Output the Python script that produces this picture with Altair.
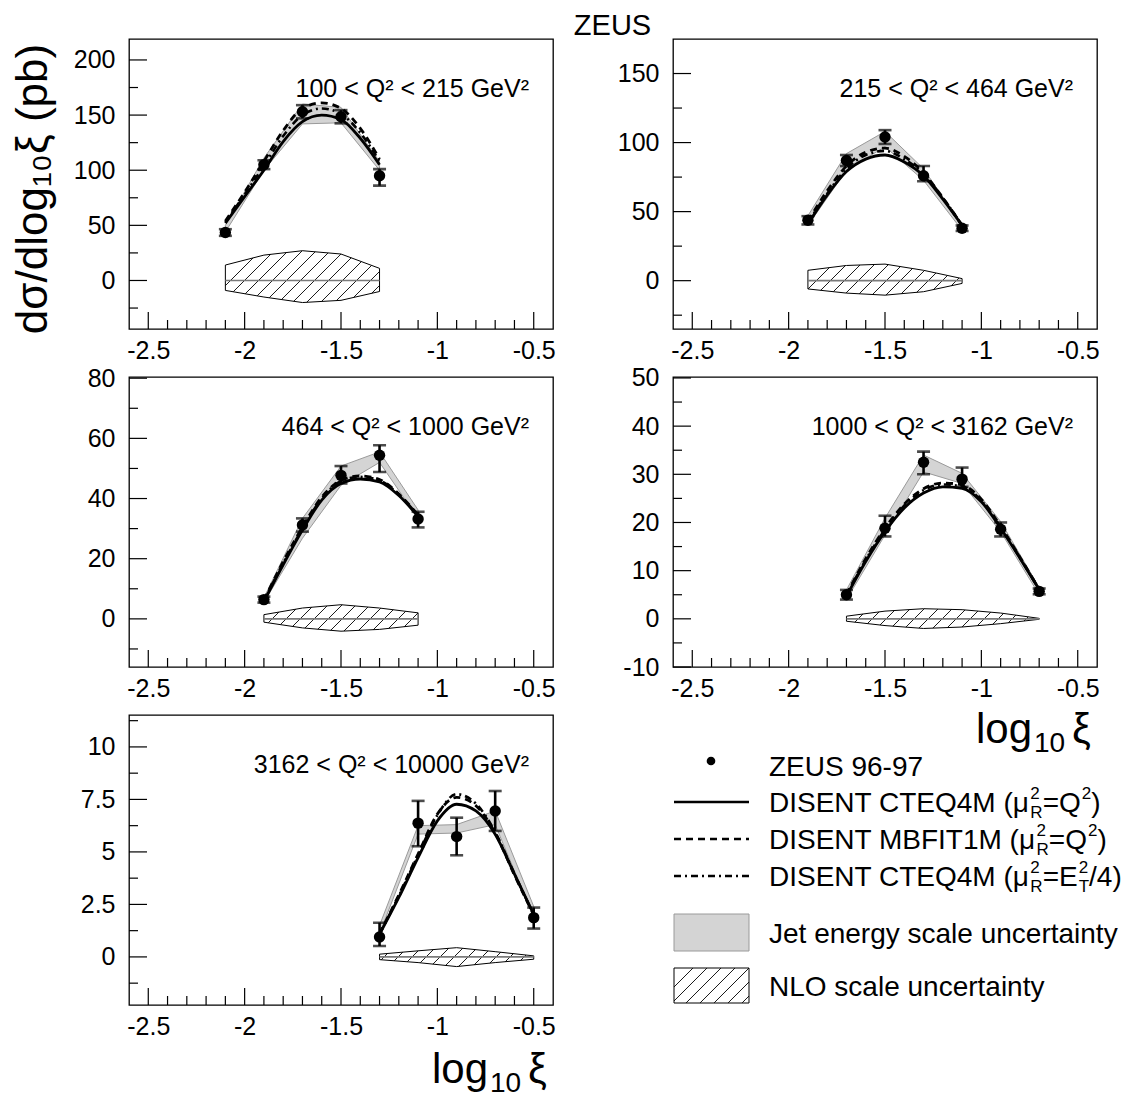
import altair as alt
import numpy as np
import pandas as pd

FONT = "Liberation Sans"
XDOM = [-2.6, -0.4]
W = 424
H = 290
X_MAJ = [-2.5, -2.0, -1.5, -1.0, -0.5]
X_ALL = [round(-2.5 + 0.1 * i, 1) for i in range(21)]
TITLE = "ZEUS"
YTITLE = "dσ/dlog₁₀ξ (pb)"

# ---------------- Panel 1 ----------------
P1_LABEL = "100 < Q² < 215 GeV²"
P1_YDOM = [-44, 219]
P1_YMAJ = [0, 50, 100, 150, 200]
P1_YMIN = [-25, 25, 75, 125, 175]
P1_X = [-2.1, -1.9, -1.7, -1.5, -1.3]
P1_Y = [43.5, 105, 153, 148.5, 95]
P1_EUP = [3, 4, 6, 6, 6]
P1_EDN = [3, 4, 6, 6, 9]
P1_JHI = [50, 111, 160, 157, 108]
P1_JLO = [44, 100, 142, 143, 100]
P1_NHI = [14, 23, 27, 24, 11]
P1_NLO = [-9, -15, -20, -18, -10]
P1_CX = [-2.1, -2.0, -1.9, -1.8, -1.7, -1.6, -1.5, -1.4, -1.3]
P1_SOLID = [52, 76, 100, 126, 144, 150, 146, 129, 105]
P1_DASH = [54, 80, 108, 136, 156, 161, 156, 138, 110]
P1_DDOT = [53, 78, 104, 131, 150, 156, 151, 134, 108]

# ---------------- Panel 2 ----------------
P2_LABEL = "215 < Q² < 464 GeV²"
P2_YDOM = [-35, 175]
P2_YMAJ = [0, 50, 100, 150]
P2_YMIN = [-25, 25, 75, 125]
P2_X = [-1.9, -1.7, -1.5, -1.3, -1.1]
P2_Y = [43.7, 87, 104, 76, 38]
P2_EUP = [3, 4, 5, 7, 2]
P2_EDN = [3, 4, 5, 4, 2]
P2_JHI = [47, 92, 108, 81, 40]
P2_JLO = [40, 80, 97, 72.7, 36.5]
P2_NHI = [7.5, 11, 12, 7.5, 1.5]
P2_NLO = [-6, -9, -10.5, -8, -2]
P2_CX = [-1.9, -1.8, -1.7, -1.6, -1.5, -1.4, -1.3, -1.2, -1.1]
P2_SOLID = [41, 62, 79, 88, 91, 86, 76, 59, 40]
P2_DASH = [43, 65, 83, 93, 96, 90, 78, 60, 40]
P2_DDOT = [42, 63, 81, 91, 94, 88, 77, 60, 40]

# ---------------- Panel 3 ----------------
P3_LABEL = "464 < Q² < 1000 GeV²"
P3_YDOM = [-16, 80.4]
P3_YMAJ = [0, 20, 40, 60, 80]
P3_YMIN = [-10, 10, 30, 50, 70]
P3_X = [-1.9, -1.7, -1.5, -1.3, -1.1]
P3_Y = [6.4, 31.2, 47.7, 54.4, 33.2]
P3_EUP = [1, 2.2, 3.1, 3.3, 2.4]
P3_EDN = [1, 2.2, 2.7, 5.6, 2.8]
P3_JHI = [7, 33.4, 50.8, 55.5, 36.2]
P3_JLO = [5.5, 26.8, 44.4, 52.0, 33.4]
P3_NHI = [1.4, 3.6, 4.7, 3.6, 2.0]
P3_NLO = [-1.1, -3.0, -4.1, -3.5, -2.1]
P3_CX = [-1.9, -1.8, -1.7, -1.6, -1.5, -1.4, -1.3, -1.2, -1.1]
P3_SOLID = [5.8, 18, 29.5, 39.5, 45, 46.5, 45.5, 41, 34]
P3_DASH = [6.2, 19, 30.5, 40.5, 46, 47.5, 46.3, 41.5, 34.5]
P3_DDOT = [6.0, 18.5, 30, 40, 45.8, 47.2, 46, 41.3, 34.3]

# ---------------- Panel 4 ----------------
P4_LABEL = "1000 < Q² < 3162 GeV²"
P4_YDOM = [-10, 50.2]
P4_YMAJ = [-10, 0, 10, 20, 30, 40, 50]
P4_YMIN = [-5, 5, 15, 25, 35, 45]
P4_X = [-1.7, -1.5, -1.3, -1.1, -0.9, -0.7]
P4_Y = [5.0, 18.8, 32.5, 29.0, 18.6, 5.7]
P4_EUP = [1, 2.6, 2.2, 2.4, 1.4, 0.6]
P4_EDN = [1, 1.7, 2.5, 1.6, 1.5, 0.6]
P4_JHI = [6, 20.9, 34, 30.2, 20.2, 6.5]
P4_JLO = [4, 17.4, 30.5, 28.1, 18.1, 5.0]
P4_NHI = [0.55, 1.6, 2.1, 1.9, 1.2, 0.1]
P4_NLO = [-0.5, -1.4, -2.0, -1.7, -1.0, -0.1]
P4_CX = [-1.7, -1.6, -1.5, -1.4, -1.3, -1.2, -1.1, -1.0, -0.9, -0.8, -0.7]
P4_SOLID = [4.7, 11.9, 18.1, 23, 26.1, 27.4, 27.1, 24.3, 18.8, 12.6, 6.1]
P4_DASH = [5.0, 12.5, 18.8, 23.8, 27, 28.2, 27.8, 24.8, 19.2, 12.8, 6.1]
P4_DDOT = [4.9, 12.2, 18.5, 23.5, 26.7, 27.9, 27.5, 24.5, 19.0, 12.7, 6.1]

# ---------------- Panel 5 ----------------
P5_LABEL = "3162 < Q² < 10000 GeV²"
P5_YDOM = [-2.29, 11.52]
P5_YMAJ = [0, 2.5, 5, 7.5, 10]
P5_YMIN = [-1.25, 1.25, 3.75, 6.25, 8.75, 11.25]
P5_X = [-1.3, -1.1, -0.9, -0.7, -0.5]
P5_Y = [0.95, 6.37, 5.73, 6.95, 1.87]
P5_EUP = [0.68, 1.06, 0.9, 0.95, 0.48]
P5_EDN = [0.43, 1.1, 0.89, 0.95, 0.52]
P5_JHI = [1.5, 6.25, 6.3, 6.95, 2.4]
P5_JLO = [1.1, 5.85, 5.9, 6.3, 1.9]
P5_NHI = [0.13, 0.29, 0.44, 0.25, 0.05]
P5_NLO = [-0.13, -0.27, -0.46, -0.27, -0.11]
P5_CX = [-1.3, -1.2, -1.1, -1.0, -0.9, -0.8, -0.7, -0.6, -0.5]
P5_SOLID = [1.08, 2.83, 4.73, 6.48, 7.27, 6.95, 5.84, 3.94, 2.03]
P5_DASH = [1.1, 2.95, 4.9, 6.8, 7.6, 7.2, 5.9, 3.9, 2.0]
P5_DDOT = [1.1, 2.9, 4.85, 6.75, 7.75, 7.3, 5.95, 3.95, 2.0]

# ---------------- Legend ----------------
LEG_DATA = "ZEUS 96-97"
LEG_CURVES = ["DISENT CTEQ4M (μ", "DISENT MBFIT1M (μ", "DISENT CTEQ4M (μ"]
LEG_SCALE = ["Q", "Q", "E"]
LEG_JES = "Jet energy scale uncertainty"
LEG_NLO = "NLO scale uncertainty"

DASH_SOLID = [1, 0]
DASH_DASHED = [7, 5]
DASH_DDOT = [7, 4, 2, 4]

ARIAL = {" ": 278, "(": 333, ")": 333, "/": 278, "=": 584, "1": 556, "2": 556,
         "4": 556, "B": 667, "C": 722, "D": 722, "E": 667, "F": 611, "I": 278,
         "M": 833, "N": 722, "Q": 778, "S": 667, "T": 611, "R": 722, "μ": 576}


def tw(s, size):
    return sum(ARIAL.get(ch, 556) for ch in s) / 1000.0 * size


ONE = pd.DataFrame({"k": [0]})
FRAME = alt.ViewBackground(stroke="black", strokeWidth=1.3)


def hatch_segments(sx, up, dn, spacing):
    out = []
    s = sx + up
    e = sx + dn
    c = np.ceil(s.min() / spacing) * spacing + 0.5 * spacing
    while c < e.max():
        ly = c - sx
        inside = (ly >= up) & (ly <= dn)
        idx = np.flatnonzero(inside)
        if idx.size:
            br = np.flatnonzero(np.diff(idx) > 1)
            starts = np.r_[idx[0], idx[br + 1]]
            ends = np.r_[idx[br], idx[-1]]
            for a, b in zip(starts, ends):
                if b > a:
                    out.append((sx[a], ly[a], sx[b], ly[b]))
        c += spacing
    return out


def hatch_df(xs, lo, hi, ydom, spacing=14.0):
    xs = np.asarray(xs, float)
    lo = np.asarray(lo, float)
    hi = np.asarray(hi, float)
    to_px = lambda x: (x - XDOM[0]) / (XDOM[1] - XDOM[0]) * W
    to_py = lambda y: H - (y - ydom[0]) / (ydom[1] - ydom[0]) * H
    sx = np.linspace(to_px(xs[0]), to_px(xs[-1]), 3000)
    xd = XDOM[0] + sx / W * (XDOM[1] - XDOM[0])
    up = to_py(np.interp(xd, xs, hi))
    dn = to_py(np.interp(xd, xs, lo))
    rows = []
    for (a, b, c, d) in hatch_segments(sx, up, dn, spacing):
        rows.append({
            "x1": XDOM[0] + a / W * (XDOM[1] - XDOM[0]),
            "y1": ydom[0] + (H - b) / H * (ydom[1] - ydom[0]),
            "x2": XDOM[0] + c / W * (XDOM[1] - XDOM[0]),
            "y2": ydom[0] + (H - d) / H * (ydom[1] - ydom[0]),
        })
    return pd.DataFrame(rows)


def xenc(field):
    return alt.X(f"{field}:Q",
                 scale=alt.Scale(domain=XDOM, nice=False, zero=False),
                 axis=alt.Axis(values=X_MAJ, labelExpr="'' + datum.value", ticks=False,
                               domain=False, grid=False, labelFont=FONT, labelFontSize=25,
                               labelPadding=9, labelColor="black", labelFlush=False,
                               title=None))


def yenc(field, ydom, ymaj):
    return alt.Y(f"{field}:Q",
                 scale=alt.Scale(domain=ydom, nice=False, zero=False),
                 axis=alt.Axis(values=ymaj, labelExpr="'' + datum.value", ticks=False,
                               domain=False, grid=False, labelFont=FONT, labelFontSize=25,
                               labelPadding=14, labelColor="black", labelFlush=False,
                               title=None))


def txt(text, x, y, size, align="left", angle=0, baseline="alphabetic"):
    mk = dict(align=align, baseline=baseline, font=FONT, fontSize=size, color="black")
    if angle:
        mk["angle"] = angle
    return alt.Chart(ONE).mark_text(**mk).encode(
        x=alt.value(x), y=alt.value(y), text=alt.value(text))


def xtitle_layers(base_y):
    return [
        txt("log", W - 121, base_y, 42),
        txt("10", W - 63, base_y + 9, 28),
        txt("ξ", W - 25, base_y, 42),
    ]


def make_panel(label, ydom, ymaj, ymin, xs, ys, eup, edn, jhi, jlo, nhi, nlo,
               cx, solid, dash, ddot, extra=None):
    pts = pd.DataFrame({"x": xs, "y": ys,
                        "lo": np.array(ys) - np.array(edn),
                        "hi": np.array(ys) + np.array(eup),
                        "jlo": jlo, "jhi": jhi})
    nlo_df = pd.DataFrame({"x": xs, "lo": nlo, "hi": nhi})
    mid = pd.DataFrame({"x0": [xs[0]], "x1": [xs[-1]], "y0": [0.0]})
    curves = pd.DataFrame({"x": cx, "solid": solid, "dash": dash, "ddot": ddot})
    hatch = hatch_df(xs, nlo, nhi, ydom)
    Y = lambda f: yenc(f, ydom, ymaj)

    layers = []
    layers.append(alt.Chart(pts).mark_area(fill="#d4d4d4", stroke="#9a9a9a", strokeWidth=1,
                                           interpolate="linear").encode(
        x=xenc("x"), y=Y("jlo"), y2=alt.Y2("jhi:Q")))
    layers.append(alt.Chart(nlo_df).mark_area(fill="white", stroke="black", strokeWidth=1).encode(
        x=xenc("x"), y=Y("lo"), y2=alt.Y2("hi:Q")))
    layers.append(alt.Chart(hatch).mark_rule(color="black", strokeWidth=0.9).encode(
        x=xenc("x1"), y=Y("y1"), x2=alt.X2("x2:Q"), y2=alt.Y2("y2:Q")))
    layers.append(alt.Chart(mid).mark_rule(color="#7a7a7a", strokeWidth=1.6).encode(
        x=xenc("x0"), x2=alt.X2("x1:Q"), y=Y("y0")))
    for fld, dsh, sw in (("solid", DASH_SOLID, 2.8), ("dash", DASH_DASHED, 2.8),
                         ("ddot", DASH_DDOT, 2.6)):
        mk = dict(interpolate="monotone", color="black", strokeWidth=sw)
        if fld != "solid":
            mk["strokeDash"] = dsh
        layers.append(alt.Chart(curves).mark_line(**mk).encode(x=xenc("x"), y=Y(fld)))
    layers.append(alt.Chart(pts).mark_rule(color="black", strokeWidth=2.6).encode(
        x=xenc("x"), y=Y("lo"), y2=alt.Y2("hi:Q")))
    layers.append(alt.Chart(pts).mark_tick(orient="horizontal", color="black", size=13,
                                           thickness=2.6).encode(x=xenc("x"), y=Y("lo")))
    layers.append(alt.Chart(pts).mark_tick(orient="horizontal", color="black", size=13,
                                           thickness=2.6).encode(x=xenc("x"), y=Y("hi")))
    layers.append(alt.Chart(pts).mark_circle(color="black", opacity=1, size=130).encode(
        x=xenc("x"), y=Y("y")))
    # ticks
    xmaj = pd.DataFrame({"t": X_MAJ})
    xmin = pd.DataFrame({"t": [v for v in X_ALL if v not in X_MAJ]})
    layers.append(alt.Chart(xmaj).mark_rule(color="black", strokeWidth=1.2).encode(
        x=xenc("t"), y=alt.value(H), y2=alt.value(H - 17)))
    layers.append(alt.Chart(xmin).mark_rule(color="black", strokeWidth=1.2).encode(
        x=xenc("t"), y=alt.value(H), y2=alt.value(H - 9)))
    layers.append(alt.Chart(pd.DataFrame({"t": ymaj})).mark_rule(color="black", strokeWidth=1.2).encode(
        y=Y("t"), x=alt.value(0), x2=alt.value(18)))
    layers.append(alt.Chart(pd.DataFrame({"t": ymin})).mark_rule(color="black", strokeWidth=1.2).encode(
        y=Y("t"), x=alt.value(0), x2=alt.value(9)))
    layers.append(txt(label, W - 24, 58, 25, align="right"))
    if extra:
        layers.extend(extra)
    return alt.layer(*layers).properties(width=W, height=H, view=FRAME)


p1_extra = [
    txt(YTITLE, -95, 150, 44, align="center", angle=270, baseline="middle"),
    txt(TITLE, 483.5, -27, 29, align="center", baseline="top"),
]

p1 = make_panel(P1_LABEL, P1_YDOM, P1_YMAJ, P1_YMIN, P1_X, P1_Y, P1_EUP, P1_EDN, P1_JHI, P1_JLO,
                P1_NHI, P1_NLO, P1_CX, P1_SOLID, P1_DASH, P1_DDOT, extra=p1_extra)
p2 = make_panel(P2_LABEL, P2_YDOM, P2_YMAJ, P2_YMIN, P2_X, P2_Y, P2_EUP, P2_EDN, P2_JHI, P2_JLO,
                P2_NHI, P2_NLO, P2_CX, P2_SOLID, P2_DASH, P2_DDOT)
p3 = make_panel(P3_LABEL, P3_YDOM, P3_YMAJ, P3_YMIN, P3_X, P3_Y, P3_EUP, P3_EDN, P3_JHI, P3_JLO,
                P3_NHI, P3_NLO, P3_CX, P3_SOLID, P3_DASH, P3_DDOT)
p4 = make_panel(P4_LABEL, P4_YDOM, P4_YMAJ, P4_YMIN, P4_X, P4_Y, P4_EUP, P4_EDN, P4_JHI, P4_JLO,
                P4_NHI, P4_NLO, P4_CX, P4_SOLID, P4_DASH, P4_DDOT, extra=xtitle_layers(H + 76))
p5 = make_panel(P5_LABEL, P5_YDOM, P5_YMAJ, P5_YMIN, P5_X, P5_Y, P5_EUP, P5_EDN, P5_JHI, P5_JLO,
                P5_NHI, P5_NLO, P5_CX, P5_SOLID, P5_DASH, P5_DDOT, extra=xtitle_layers(H + 78))

# ---------------- Legend cell ----------------
MAIN, SMALL = 28, 17
TX = 96
centers = [51, 87, 124, 161, 218, 271]
pieces = []


def add(text, x, y, size):
    pieces.append({"text": text, "x": x, "y": y, "size": size})


add(LEG_DATA, TX, centers[0] + 10, MAIN)
for i, (head, base) in enumerate(zip(LEG_CURVES, LEG_SCALE)):
    bl = centers[i + 1] + 10
    x = TX
    add(head, x, bl, MAIN)
    x += tw(head, MAIN)
    add("2", x + 1, bl - 13, SMALL)
    add("R", x + 1, bl + 6, SMALL)
    x += max(tw("2", SMALL), tw("R", SMALL)) + 1
    add("=" + base, x, bl, MAIN)
    x += tw("=" + base, MAIN)
    if base == "Q":
        add("2", x + 1, bl - 13, SMALL)
        x += tw("2", SMALL) + 1
        add(")", x, bl, MAIN)
    else:
        add("2", x + 1, bl - 13, SMALL)
        add("T", x + 1, bl + 6, SMALL)
        x += max(tw("2", SMALL), tw("T", SMALL)) + 1
        add("/4)", x, bl, MAIN)
add(LEG_JES, TX, centers[4] + 10, MAIN)
add(LEG_NLO, TX, centers[5] + 10, MAIN)
text_df = pd.DataFrame(pieces)

PX = lambda f: alt.X(f"{f}:Q", scale=None, axis=None)
PY = lambda f: alt.Y(f"{f}:Q", scale=None, axis=None)

leg_layers = [
    alt.Chart(text_df).mark_text(align="left", baseline="alphabetic", font=FONT,
                                 color="black").encode(
        x=PX("x"), y=PY("y"), text="text:N", size=alt.Size("size:Q", scale=None, legend=None)),
    alt.Chart(ONE).mark_circle(color="black", opacity=1, size=75).encode(
        x=alt.value(38), y=alt.value(46)),
]
for i, dsh in enumerate([DASH_SOLID, DASH_DASHED, DASH_DDOT]):
    mk = dict(color="black", strokeWidth=2.4)
    if i > 0:
        mk["strokeDash"] = dsh
    leg_layers.append(alt.Chart(ONE).mark_rule(**mk).encode(
        x=alt.value(1), x2=alt.value(76), y=alt.value(centers[i + 1])))
leg_layers.append(alt.Chart(ONE).mark_rect(fill="#d4d4d4", stroke="#9a9a9a", strokeWidth=1).encode(
    x=alt.value(1), x2=alt.value(76), y=alt.value(199), y2=alt.value(236)))
leg_layers.append(alt.Chart(ONE).mark_rect(fill="white", stroke="black", strokeWidth=1).encode(
    x=alt.value(1), x2=alt.value(76), y=alt.value(253), y2=alt.value(288)))
bx = np.linspace(1, 76, 600)
lh = hatch_segments(bx, np.full_like(bx, 253.0), np.full_like(bx, 288.0), 14.0)
leg_hatch = pd.DataFrame([{"x1": a, "y1": b, "x2": c, "y2": d} for a, b, c, d in lh])
leg_layers.append(alt.Chart(leg_hatch).mark_rule(color="black", strokeWidth=0.9).encode(
    x=PX("x1"), y=PY("y1"), x2="x2:Q", y2="y2:Q"))

legend = alt.layer(*leg_layers).properties(
    width=W, height=H, view=alt.ViewBackground(stroke="transparent", strokeWidth=0))

chart = alt.concat(p1, p2, p3, p4, p5, legend, columns=2,
                   spacing={"row": 48, "column": 120}, bounds="flush").properties(
    padding={"left": 3, "top": 3, "right": 0, "bottom": 0},
).configure_view(stroke="black", strokeWidth=1.3)

chart.save("out.html", embed_options={"renderer": "svg", "actions": False})
